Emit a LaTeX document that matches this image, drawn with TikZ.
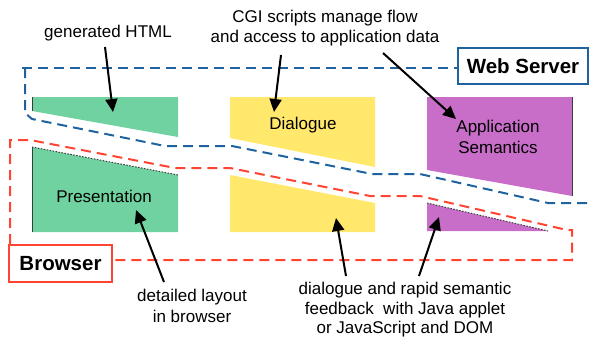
\documentclass[tikz,border=0pt]{standalone}
\usepackage{fontspec}
\setmainfont{Liberation Sans}
\usetikzlibrary{arrows.meta}
\definecolor{cgreen}{RGB}{112,210,160}
\definecolor{cyellow}{RGB}{255,232,108}
\definecolor{cpurple}{RGB}{200,110,200}
\definecolor{cblue}{RGB}{32,98,158}
\definecolor{cred}{RGB}{255,68,51}
\definecolor{cedge}{RGB}{60,60,60}
\begin{document}
\begin{tikzpicture}[x=1pt,y=-1pt,
  lbl/.style={font=\fontsize{17}{20.5}\selectfont, align=center, inner sep=0pt},
  tagbox/.style={font=\fontsize{20.5}{24}\selectfont\bfseries, draw, line width=2pt,
    fill=white, inner sep=0pt},
  bound/.style={line width=2pt, dash pattern=on 10pt off 6pt},
  pointer/.style={line width=2pt, -{Triangle[length=13pt,width=12pt]}},
  edgeline/.style={cedge, line width=1pt},
  edgedot/.style={cedge, line width=1pt, dash pattern=on 1.5pt off 1.5pt},
]
\useasboundingbox (0,0) rectangle (592,338);

% --- coloured parts ---
\fill[cgreen]  (32,97) -- (178,97) -- (178,137) -- (32,111) -- cycle;
\fill[cyellow] (230,97) -- (375,97) -- (375,167) -- (230,138) -- cycle;
\fill[cpurple] (427,97) -- (572,97) -- (572,196) -- (427,170) -- cycle;
\fill[cgreen]  (32,147) -- (178,175) -- (178,232) -- (32,232) -- cycle;
\fill[cyellow] (230,175) -- (375,203) -- (375,232) -- (230,232) -- cycle;
\fill[cpurple] (427,203) -- (548,231) -- (427,231) -- cycle;

% dark edges
\draw[edgeline] (32,97) -- (32,111);
\draw[edgeline] (32,147) -- (32,232);
\draw[edgedot]  (32,147) -- (178,175);
\draw[edgeline] (572,97) -- (572,196);
\draw[edgedot]  (427,203) -- (548,231);

% --- boundary labels ---
\node[tagbox, draw=cblue, minimum width=130pt, minimum height=36pt] (ws) at (523,66) {Web Server};
\node[tagbox, draw=cred, minimum width=103pt, minimum height=37pt] (br) at (60.5,263.5) {Browser};

% --- boundaries ---
\draw[bound, cblue] (22,68) -- (ws.west |- 0,68);
\draw[bound, cblue] (25,68) -- (25,113) -- (32,119) -- (165,146) -- (232,146)
   -- (372,174) -- (420,174) -- (548,203) -- (592,203);
\draw[bound, cred] (br.north -| 10,0) -- (10,140) -- (30,140) -- (175,168) -- (230,168)
   -- (370,196) -- (420,196) -- (567,230) -- (572,230) -- (572,260) -- (br.east |- 0,260);

% --- box labels ---
\node[lbl] (pres) at (104,196) {Presentation};
\node[lbl] (dial) at (303,125) {Dialogue};
\node[lbl] (app)  at (498,137) {Application\\Semantics};

% --- annotations ---
\node[lbl] (gen)  at (108,33) {generated HTML};
\node[lbl] (cgi)  at (325,28) {CGI scripts manage flow\\and access to application data};
\node[lbl] (lay)  at (192,306) {detailed layout\\in browser};
\node[lbl, font=\fontsize{17}{19.5}\selectfont] (fb) at (405,310)
   {dialogue and rapid semantic\\feedback\ \ with Java applet\\or JavaScript and DOM};

\coordinate (genT) at (105,47);   \coordinate (genH) at (113,112);
\coordinate (cgiT1) at (281,55);  \coordinate (cgiH1) at (274,112);
\coordinate (cgiT2) at (383,53);  \coordinate (cgiH2) at (456,119);
\coordinate (layT) at (164,282);  \coordinate (layH) at (136,210);
\coordinate (fbT1) at (346,276);  \coordinate (fbH1) at (336,218);
\coordinate (fbT2) at (419,276);  \coordinate (fbH2) at (439,217);

\draw[pointer] (genT) -- (genH);
\draw[pointer] (cgiT1) -- (cgiH1);
\draw[pointer] (cgiT2) -- (cgiH2);
\draw[pointer] (layT) -- (layH);
\draw[pointer] (fbT1) -- (fbH1);
\draw[pointer] (fbT2) -- (fbH2);
\end{tikzpicture}
\end{document}
